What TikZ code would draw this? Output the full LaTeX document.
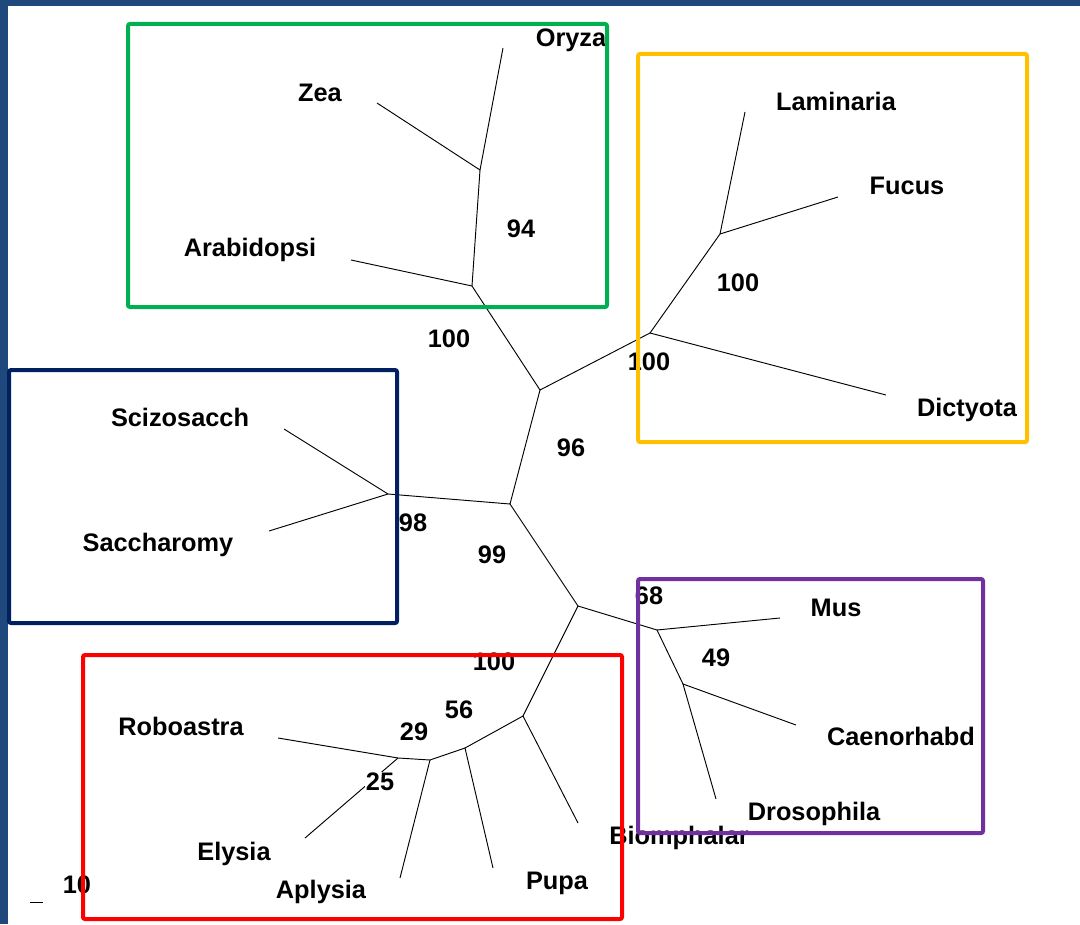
\documentclass[tikz,border=0pt]{standalone}
\usepackage{fontspec}
\setmainfont{Liberation Sans}
\begin{document}
\begin{tikzpicture}[x=0.75pt,y=-0.75pt,
  branch/.style={black,line width=0.7pt},
  frame/.style={line width=3pt,rounded corners=1.5pt},
  taxon/.style={font=\fontsize{19}{19}\selectfont\bfseries,inner sep=0pt,anchor=base},
  support/.style={font=\fontsize{19}{19}\selectfont\bfseries,inner sep=0.5pt,anchor=base,fill=white}]
\definecolor{slide}{HTML}{1F497D}
\definecolor{gbox}{HTML}{00B050}
\definecolor{ybox}{HTML}{FFC000}
\definecolor{nbox}{HTML}{002060}
\definecolor{rbox}{HTML}{FF0000}
\definecolor{pbox}{HTML}{7030A0}
\useasboundingbox (0,0) rectangle (1080,924);
\fill[slide] (0,0) rectangle (1080,924);
\fill[white] (8,6) rectangle (1080,924);

% internal nodes
\coordinate (nPlantA) at (480,170);
\coordinate (nPlant) at (472,286);
\coordinate (nTop) at (540,390);
\coordinate (nBrown) at (650,333);
\coordinate (nBrownA) at (720,234);
\coordinate (nMid) at (510,504);
\coordinate (nFungi) at (388,494);
\coordinate (nLow) at (578,606);
\coordinate (nAnim) at (657,630);
\coordinate (nAnimA) at (683,684);
\coordinate (nMoll) at (523,716);
\coordinate (nMollA) at (465,748);
\coordinate (nMollB) at (430,760);
\coordinate (nMollC) at (398,758);
% tips
\coordinate (tOryza) at (503,48);
\coordinate (tZea) at (377,103);
\coordinate (tArab) at (351,260);
\coordinate (tLam) at (745,112);
\coordinate (tFucus) at (838,197);
\coordinate (tDict) at (886,395);
\coordinate (tSciz) at (284,429);
\coordinate (tSacc) at (269,531);
\coordinate (tMus) at (780,618);
\coordinate (tCaen) at (796,725);
\coordinate (tDros) at (716,799);
\coordinate (tBiom) at (578,823);
\coordinate (tPupa) at (493,868);
\coordinate (tAply) at (400,878);
\coordinate (tRobo) at (278,738);
\coordinate (tElys) at (305,838);
\coordinate (sbA) at (30,902);
\coordinate (sbB) at (43,902);

% branches
\draw[branch] (tOryza) -- (nPlantA) -- (tZea);
\draw[branch] (nPlantA) -- (nPlant) -- (tArab);
\draw[branch] (nPlant) -- (nTop) -- (nBrown) -- (tDict);
\draw[branch] (nBrown) -- (nBrownA) -- (tLam);
\draw[branch] (nBrownA) -- (tFucus);
\draw[branch] (nTop) -- (nMid) -- (nFungi) -- (tSciz);
\draw[branch] (nFungi) -- (tSacc);
\draw[branch] (nMid) -- (nLow) -- (nAnim) -- (tMus);
\draw[branch] (nAnim) -- (nAnimA) -- (tCaen);
\draw[branch] (nAnimA) -- (tDros);
\draw[branch] (nLow) -- (nMoll) -- (tBiom);
\draw[branch] (nMoll) -- (nMollA) -- (tPupa);
\draw[branch] (nMollA) -- (nMollB) -- (tAply);
\draw[branch] (nMollB) -- (nMollC) -- (tRobo);
\draw[branch] (nMollC) -- (tElys);
\draw[branch] (sbA) -- (sbB);

% taxon labels
\node[taxon] (lOryza) at (571,47) {Oryza};
\node[taxon] (lZea) at (320,101) {Zea};
\node[taxon] (lArab) at (250,256) {Arabidopsi};
\node[taxon] (lLam) at (836,110) {Laminaria};
\node[taxon] (lFucus) at (907,194) {Fucus};
\node[taxon] (lDict) at (967,416) {Dictyota};
\node[taxon] (lSciz) at (180,426) {Scizosacch};
\node[taxon] (lSacc) at (158,551) {Saccharomy};
\node[taxon] (lMus) at (836,616) {Mus};
\node[taxon] (lCaen) at (901,745) {Caenorhabd};
\node[taxon] (lDros) at (814,820) {Drosophila};
\node[taxon] (lBiom) at (679,844) {Biomphalar};
\node[taxon] (lPupa) at (557,889) {Pupa};
\node[taxon] (lAply) at (321,898) {Aplysia};
\node[taxon] (lElys) at (234,860) {Elysia};
\node[taxon] (lRobo) at (181,735) {Roboastra};

% support values
\node[support] (s94) at (521,237) {94};
\node[support] (s100a) at (449,347) {100};
\node[support] (s100b) at (738,291) {100};
\node[support] (s100c) at (649,370) {100};
\node[support] (s96) at (571,456) {96};
\node[support] (s98) at (413,531) {98};
\node[support] (s99) at (492,563) {99};
\node[support] (s68) at (649,604) {68};
\node[support] (s49) at (716,666) {49};
\node[support] (s100d) at (494,670) {100};
\node[support] (s56) at (459,718) {56};
\node[support] (s29) at (414,740) {29};
\node[support] (s25) at (380,790) {25};
\node[taxon] (s10) at (77,893) {10};

% group frames
\draw[frame,gbox] (128,24) rectangle (607,307);
\draw[frame,ybox] (638,54) rectangle (1027,442);
\draw[frame,nbox] (9,370) rectangle (397,623);
\draw[frame,rbox] (83,655) rectangle (622,919);
\draw[frame,pbox] (638,579) rectangle (983,833);
\end{tikzpicture}
\end{document}
